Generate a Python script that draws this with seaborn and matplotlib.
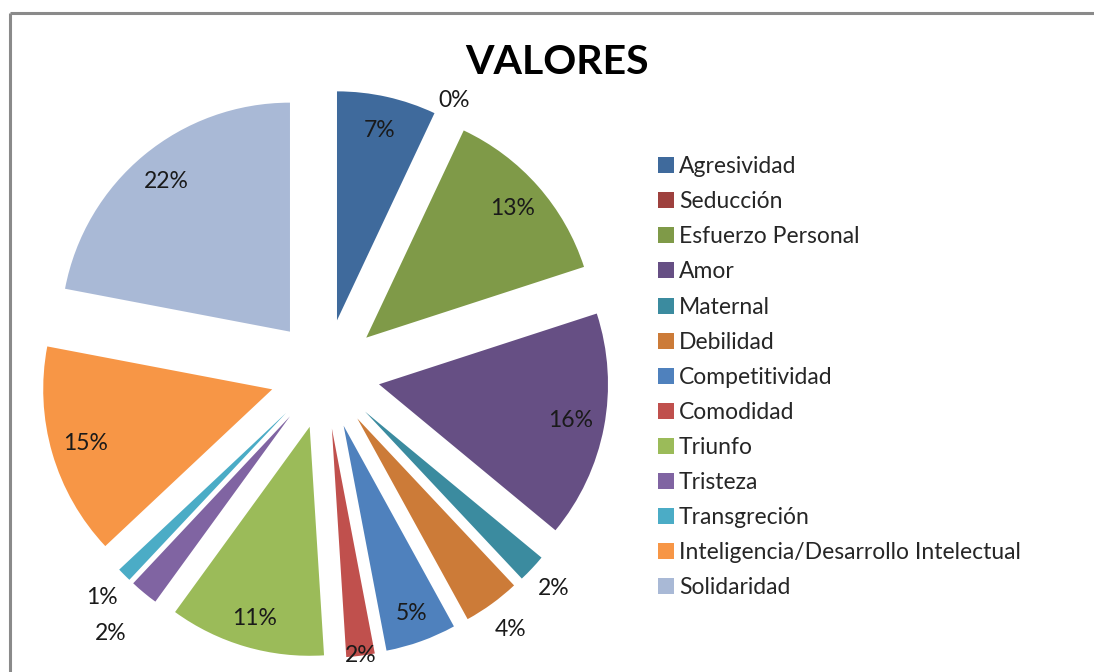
import numpy as np
import matplotlib
matplotlib.use("Agg")
import matplotlib.pyplot as plt
import seaborn as sns
from matplotlib.lines import Line2D

categories = ["Agresividad", "Seducción", "Esfuerzo Personal", "Amor", "Maternal",
              "Debilidad", "Competitividad", "Comodidad", "Triunfo", "Tristeza",
              "Transgreción", "Inteligencia/Desarrollo Intelectual", "Solidaridad"]
percent = [7, 0, 13, 16, 2, 4, 5, 2, 11, 2, 1, 15, 22]
colors = ["#3F6A9C", "#9E413E", "#7F9A48", "#664F84", "#3B8B9F", "#CC7B38", "#4F81BD",
          "#C0504D", "#9BBB59", "#8064A2", "#4BACC6", "#F79646", "#A9B9D6"]
# label distance from the (exploded) apex, in radius units
label_dist = [0.85, 1.08, 0.85, 0.85, 1.13, 1.14, 0.87, 1.0, 0.87, 1.23, 1.14, 0.85, 0.85]

sns.set_theme(style="white")
plt.rcParams["font.family"] = ["Lato", "DejaVu Sans"]

fig = plt.figure(figsize=(10.94, 6.72), dpi=100)

# chart frame (only top and left edges are inside the picture)
top = 1 - 12.5 / 672
left = 9.5 / 1094
fig.lines.append(Line2D([left, 1.1], [top, top], transform=fig.transFigure,
                        color="#8a8a8a", linewidth=2.2, solid_capstyle="butt"))
fig.lines.append(Line2D([left, left], [-0.1, top], transform=fig.transFigure,
                        color="#8a8a8a", linewidth=2.2, solid_capstyle="butt"))

# axes in pixels: pie center at (325, 374 from top), 229 px per unit
cx, cy, scale = 325, 672 - 374, 229
ax = fig.add_axes([0, 0, 660 / 1094, 1])
wedges, _ = ax.pie(percent, colors=colors, startangle=90, counterclock=False,
                   explode=[0.24] * len(percent), radius=1,
                   wedgeprops=dict(linewidth=0))
ax.set_xlim(-cx / scale, (660 - cx) / scale)
ax.set_ylim(-cy / scale, (672 - cy) / scale)
ax.set_aspect("auto")
ax.axis("off")

for w, p, d in zip(wedges, percent, label_dist):
    th = np.deg2rad((w.theta1 + w.theta2) / 2)
    x = w.center[0] + d * w.r * np.cos(th)
    y = w.center[1] + d * w.r * np.sin(th)
    ax.text(x, y, f"{p}%", ha="center", va="center", fontsize=16.5, color="#1a1a1a")

fig.text(557 / 1094, 1 - 63 / 672, "VALORES", ha="center", va="center",
         fontsize=29.5, fontweight="bold", color="black")

fig.legend(wedges, categories, loc="upper left", bbox_to_anchor=(649 / 1094, 1 - 147 / 672),
           frameon=False, fontsize=16.5, handlelength=0.7, handleheight=0.7,
           handletextpad=0.2, labelspacing=0.615, borderaxespad=0)

fig.savefig("out.png", dpi=100)
